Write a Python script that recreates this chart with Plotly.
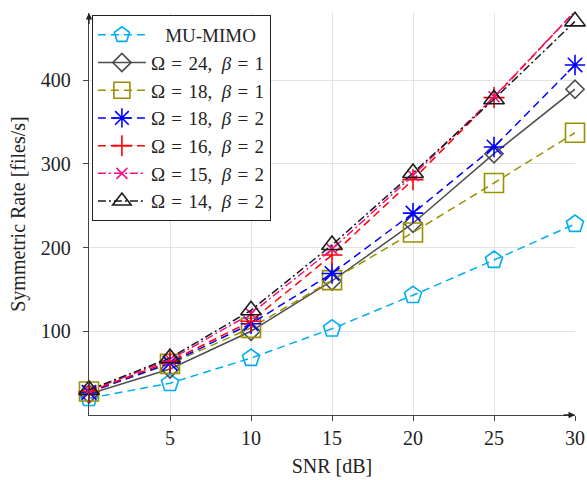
import plotly.graph_objects as go

snr = [0, 5, 10, 15, 20, 25, 30]
mu_mimo = [20, 38, 68, 103, 143, 185, 228]
om24_b1 = [25, 55, 100, 160, 229, 312, 389]
om18_b1 = [28, 61, 104, 161, 218, 277, 337]
om18_b2 = [27, 62, 109, 169, 241, 320, 418]
om16_b2 = [28, 64, 112, 191, 281, 379, 482]
om15_b2 = [29, 66, 121, 198, 286, 380, 482]
om14_b2 = [30, 68, 125, 203, 289, 377, 470]

SP = "\u2004"  # math space around '='
CM = "\u2002"  # space after comma
names = ["\u2002\u2005MU-MIMO",
         f"Ω{SP}={SP}24,{CM}<i>β</i>{SP}={SP}1",
         f"Ω{SP}={SP}18,{CM}<i>β</i>{SP}={SP}1",
         f"Ω{SP}={SP}18,{CM}<i>β</i>{SP}={SP}2",
         f"Ω{SP}={SP}16,{CM}<i>β</i>{SP}={SP}2",
         f"Ω{SP}={SP}15,{CM}<i>β</i>{SP}={SP}2",
         f"Ω{SP}={SP}14,{CM}<i>β</i>{SP}={SP}2"]
series = [mu_mimo, om24_b1, om18_b1, om18_b2, om16_b2, om15_b2, om14_b2]
colors = ["#00AEEF", "#4D4D4D", "#9A9000", "#0000FF", "#FF0000", "#EE1289", "#1A1A1A"]
symbols = ["pentagon-open", "diamond-open", "square-open", "asterisk-open",
           "cross-thin-open", "x-thin-open", "triangle-up-open"]
sizes = [18, 14, 19, 17, 15, 11, 18]
dashes = ["8px,5px", "solid", "8px,5px", "8px,5px", "8px,5px", "8px,3px,2px,3px", "8px,3px,2px,3px"]

FONT = "Liberation Serif"
FS = 20

fig = go.Figure()
for i, (nm, ys) in enumerate(zip(names, series)):
    fig.add_trace(go.Scatter(
        x=snr, y=ys, name=nm, mode="lines+markers",
        line=dict(color=colors[i], width=1.5, dash=dashes[i]),
        marker=dict(symbol=symbols[i], size=sizes[i], color=colors[i],
                    line=dict(color=colors[i], width=1.6)),
        cliponaxis=False, legendgroup=f"g{i}",
    ))

fig.update_layout(
    width=587, height=480,
    margin=dict(l=89, r=12, t=13, b=65),
    plot_bgcolor="white", paper_bgcolor="white",
    font=dict(family=FONT, size=FS, color="#222222"),
    showlegend=True,
    legend=dict(x=0.006, y=0.995, xanchor="left", yanchor="top",
                bgcolor="white", bordercolor="#222222", borderwidth=1,
                font=dict(family=FONT, size=19), tracegroupgap=0,
                itemwidth=48, traceorder="grouped"),
    xaxis=dict(range=[0, 30], tickvals=[5, 10, 15, 20, 25, 30], automargin=False,
               showgrid=True, gridcolor="#E3E3E3", gridwidth=1,
               showline=True, linecolor="#444444", linewidth=1.3,
               ticks="outside", ticklen=5, tickcolor="#444444",
               zeroline=False,
               title=dict(text="SNR [dB]", font=dict(family=FONT, size=FS), standoff=10)),
    yaxis=dict(range=[0, 480], tickvals=[100, 200, 300, 400], automargin=False,
               showgrid=True, gridcolor="#E3E3E3", gridwidth=1,
               showline=True, linecolor="#444444", linewidth=1.3,
               ticks="outside", ticklen=5, tickcolor="#444444",
               ticklabelstandoff=8,
               zeroline=False,
               title=dict(text="Symmetric Rate [files/s]", font=dict(family=FONT, size=FS), standoff=9)),
)

# axis arrowheads
fig.add_annotation(x=30, y=0, ax=29.2, ay=0, xref="x", yref="y", axref="x", ayref="y",
                   text="", showarrow=True, arrowhead=2, arrowsize=1, arrowwidth=1.3,
                   arrowcolor="#222222")
fig.add_annotation(x=0, y=480, ax=0, ay=465, xref="x", yref="y", axref="x", ayref="y",
                   text="", showarrow=True, arrowhead=2, arrowsize=1, arrowwidth=1.3,
                   arrowcolor="#222222")

fig.write_html("out.html", config={"displayModeBar": False},
               post_script="document.body.style.margin='0';document.body.style.overflow='hidden';")
